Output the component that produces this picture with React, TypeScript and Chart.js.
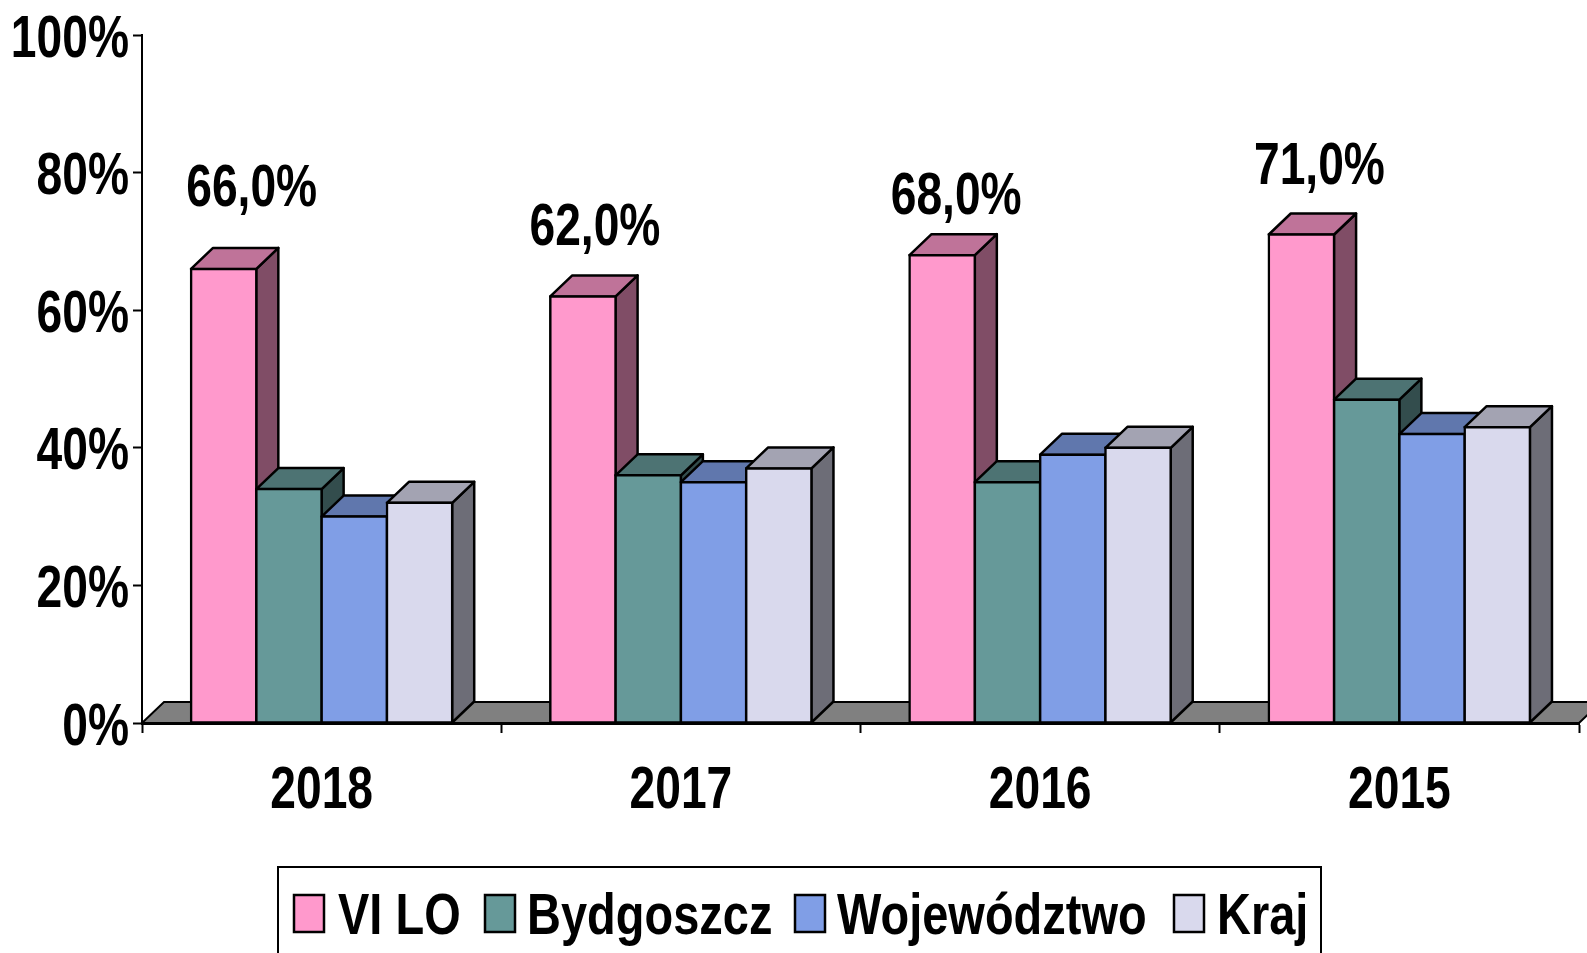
import React, { useEffect, useRef } from "react";
import { Chart, registerables } from "chart.js";

Chart.register(...registerables);

const years = ["2018", "2017", "2016", "2015"];
const viLo = [66, 62, 68, 71];
const bydgoszcz = [34, 36, 35, 47];
const wojewodztwo = [30, 35, 39, 42];
const kraj = [32, 37, 40, 43];
const seriesNames = ["VI LO", "Bydgoszcz", "Województwo", "Kraj"];
const seriesRgb = [
  [255, 153, 204],
  [102, 153, 153],
  [128, 158, 230],
  [217, 217, 237],
];

const FONT = '"Liberation Sans", Arial, sans-serif';
const DX = 22;
const DY = 21;
const LINE = 2.5;
const labelNudgeX = [28, 12, 14, 18];
const labelRise = [79, 68, 58, 67];
const legendSwatchX = [294, 485, 795, 1174];
const legendTextX = [338, 527, 837, 1217];

// The reference's lettering is a condensed Arial; no condensed face is installed,
// so every text drawn on this canvas is narrowed around its anchor.
let textScaleX = 0.77;

const rgb = (c: number[], k = 1) => `rgb(${c.map((v) => Math.round(v * k)).join(",")})`;

const poly = (ctx: CanvasRenderingContext2D, pts: number[][], fill: string) => {
  ctx.beginPath();
  pts.forEach((p, i) => (i ? ctx.lineTo(p[0], p[1]) : ctx.moveTo(p[0], p[1])));
  ctx.closePath();
  ctx.fillStyle = fill;
  ctx.fill();
  ctx.stroke();
};

const depthPlugin = {
  id: "depth",
  beforeDatasetsDraw(chart: any) {
    const { ctx, chartArea: a } = chart;
    ctx.save();
    ctx.strokeStyle = "#000";
    ctx.lineWidth = 2;
    poly(ctx, [[a.left, a.bottom], [a.left + DX, a.bottom - DY], [a.right + DX, a.bottom - DY], [a.right, a.bottom]], "#808080");
    ctx.restore();
  },
  // Chart.js paints the first dataset last; here the first must lie underneath.
  beforeDatasetDraw() {
    return false;
  },
  afterDatasetsDraw(chart: any) {
    const { ctx } = chart;
    seriesNames.forEach((_, index) => {
      const meta = chart.getDatasetMeta(index);
      const c = seriesRgb[index];
      ctx.save();
      ctx.strokeStyle = "#000";
      ctx.lineWidth = LINE;
      ctx.lineJoin = "round";
      meta.data.forEach((bar: any) => {
        const p = bar.getProps(["x", "y", "base", "width"], true);
        const l = p.x - p.width / 2;
        const r = p.x + p.width / 2;
        poly(ctx, [[r, p.y], [r + DX, p.y - DY], [r + DX, p.base - DY], [r, p.base]], rgb(c, 0.5));
        poly(ctx, [[l, p.y], [l + DX, p.y - DY], [r + DX, p.y - DY], [r, p.y]], rgb(c, 0.75));
      });
      ctx.restore();
      meta.controller.draw();
    });

    ctx.save();
    ctx.fillStyle = "#000";
    ctx.font = `bold 60px ${FONT}`;
    ctx.textAlign = "center";
    ctx.textBaseline = "middle";
    textScaleX = 0.77;
    chart.getDatasetMeta(0).data.forEach((bar: any, i: number) => {
      const text = `${viLo[i].toFixed(1).replace(".", ",")}%`;
      ctx.fillText(text, bar.x + labelNudgeX[i], bar.y - labelRise[i]);
    });

    ctx.lineWidth = 2;
    ctx.strokeStyle = "#000";
    ctx.strokeRect(278, 867, 1043, 110);
    textScaleX = 0.81;
    ctx.font = `bold 58px ${FONT}`;
    seriesNames.forEach((name, i) => {
      ctx.fillStyle = rgb(seriesRgb[i]);
      ctx.fillRect(legendSwatchX[i], 895, 30, 37);
      ctx.lineWidth = LINE;
      ctx.strokeRect(legendSwatchX[i], 895, 30, 37);
      ctx.fillStyle = "#000";
      ctx.textAlign = "left";
      ctx.textBaseline = "alphabetic";
      ctx.fillText(name, legendTextX[i], 934);
    });
    textScaleX = 0.77;
    ctx.restore();
  },
};

export default function App() {
  const ref = useRef<HTMLCanvasElement>(null);
  useEffect(() => {
    const canvas = ref.current!;
    const c2d = canvas.getContext("2d")!;
    const rawFillText = c2d.fillText.bind(c2d);
    c2d.fillText = (t: string, x: number, y: number) => {
      c2d.save();
      c2d.translate(x, y);
      c2d.scale(textScaleX, 1);
      rawFillText(t, 0, 0);
      c2d.restore();
    };
    const values = [viLo, bydgoszcz, wojewodztwo, kraj];
    const chart = new Chart(canvas, {
      type: "bar",
      data: {
        labels: years,
        datasets: seriesNames.map((name, i) => ({
          label: name,
          data: values[i],
          backgroundColor: rgb(seriesRgb[i]),
          borderColor: "#000",
          borderWidth: LINE,
          borderSkipped: false,
          inflateAmount: LINE / 2,
          categoryPercentage: 0.727,
          barPercentage: 1,
        })),
      },
      options: {
        animation: false,
        responsive: false,
        layout: { padding: { top: 35, left: 0, right: 8, bottom: 129 } },
        plugins: { legend: { display: false }, tooltip: { enabled: false }, title: { display: false } },
        scales: {
          x: {
            grid: { drawOnChartArea: false, drawTicks: true, tickLength: 10, tickColor: "#000", tickWidth: 2, offset: true },
            border: { color: "#000", width: 3 },
            ticks: { color: "#000", font: { family: FONT, size: 60, weight: "bold" }, padding: 22, maxRotation: 0, autoSkip: false },
            afterFit: (s: any) => { s.height = 101; },
          },
          y: {
            min: 0,
            max: 100,
            grid: { drawOnChartArea: false, tickLength: 9, tickColor: "#000", tickWidth: 2 },
            border: { color: "#000", width: 2 },
            ticks: { color: "#000", stepSize: 20, padding: 4, labelOffset: 5, font: { family: FONT, size: 60, weight: "bold" }, callback: (v: any) => `${v}%` },
            afterFit: (s: any) => { s.width = 142; s.paddingTop = 0; },
          },
        },
      },
      plugins: [depthPlugin],
    } as any);
    return () => {
      chart.destroy();
      delete (c2d as any).fillText;
    };
  }, []);
  return (
    <div style={{ position: "fixed", left: 0, top: 0, width: 1587, height: 953, background: "#fff", overflow: "hidden" }}>
      <canvas ref={ref} width={1587} height={953} style={{ display: "block" }} />
    </div>
  );
}
